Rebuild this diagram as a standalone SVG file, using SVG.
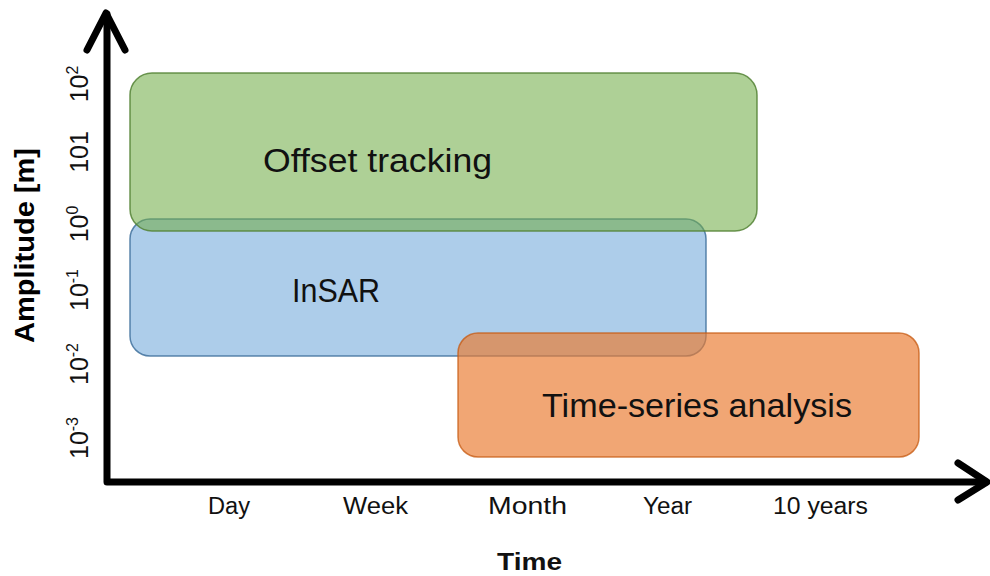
<svg xmlns="http://www.w3.org/2000/svg" width="990" height="576" viewBox="0 0 990 576">
  <style>
    .axis { fill: none; stroke: #000; stroke-width: 7; stroke-linecap: round; stroke-linejoin: round; }
    .box { stroke-width: 1.5; }
    .label { font-family: "Liberation Sans", Arial, sans-serif; font-size: 34px; fill: #111; }
    .tick { font-family: "Liberation Sans", Arial, sans-serif; font-size: 23px; fill: #111; }
    .ytick { font-family: "Liberation Sans", Arial, sans-serif; font-size: 25px; fill: #111; text-anchor: middle; }
    .title { font-family: "Liberation Sans", Arial, sans-serif; font-size: 27px; font-weight: bold; fill: #000; }
  </style>
  <rect width="990" height="576" fill="#ffffff"/>

  <!-- method ranges -->
  <g id="insar">
    <rect class="box" x="130" y="219" width="576" height="137" rx="20" fill="#5B9BD5" fill-opacity="0.5" stroke="#41719C" stroke-opacity="0.85"/>
    <text class="label" x="292" y="302" textLength="88" lengthAdjust="spacingAndGlyphs">InSAR</text>
  </g>
  <g id="offset-tracking">
    <rect class="box" x="130" y="73" width="627" height="158" rx="22" fill="#70AD47" fill-opacity="0.57" stroke="#548235" stroke-opacity="0.85"/>
    <text class="label" x="263" y="172" textLength="229" lengthAdjust="spacingAndGlyphs">Offset tracking</text>
  </g>
  <g id="time-series">
    <rect class="box" x="458" y="333" width="461" height="124" rx="20" fill="#EA7B30" fill-opacity="0.67" stroke="#C55A11" stroke-opacity="0.75"/>
    <text class="label" x="542" y="417" textLength="310" lengthAdjust="spacingAndGlyphs">Time-series analysis</text>
  </g>

  <!-- axes -->
  <g id="axes">
    <polyline class="axis" points="107,14 107,482 986,482"/>
    <polyline class="axis" points="87,50 106,13 125,50"/>
    <polyline class="axis" points="958,463 987,482 958,500"/>
  </g>

  <!-- time axis labels -->
  <g id="x-labels">
    <text class="tick" x="208" y="514" textLength="42" lengthAdjust="spacingAndGlyphs">Day</text>
    <text class="tick" x="343" y="514" textLength="65" lengthAdjust="spacingAndGlyphs">Week</text>
    <text class="tick" x="488" y="514" textLength="79" lengthAdjust="spacingAndGlyphs">Month</text>
    <text class="tick" x="643" y="514" textLength="49" lengthAdjust="spacingAndGlyphs">Year</text>
    <text class="tick" x="773" y="514" textLength="95" lengthAdjust="spacingAndGlyphs">10 years</text>
    <text class="tick" x="497" y="570" font-weight="bold" font-size="24" textLength="65" lengthAdjust="spacingAndGlyphs">Time</text>
  </g>

  <!-- amplitude axis labels -->
  <g id="y-labels">
    <text class="ytick" transform="translate(88,84) rotate(-90)">10<tspan font-size="16" dy="-10">2</tspan></text>
    <text class="ytick" transform="translate(88,152) rotate(-90)">101</text>
    <text class="ytick" transform="translate(88,224) rotate(-90)">10<tspan font-size="16" dy="-10">0</tspan></text>
    <text class="ytick" transform="translate(88,290) rotate(-90)">10<tspan font-size="16" dy="-10">-1</tspan></text>
    <text class="ytick" transform="translate(88,364) rotate(-90)">10<tspan font-size="16" dy="-10">-2</tspan></text>
    <text class="ytick" transform="translate(88,438) rotate(-90)">10<tspan font-size="16" dy="-10">-3</tspan></text>
    <text class="title" transform="translate(34,343) rotate(-90)" textLength="195" lengthAdjust="spacingAndGlyphs">Amplitude [m]</text>
  </g>
</svg>
